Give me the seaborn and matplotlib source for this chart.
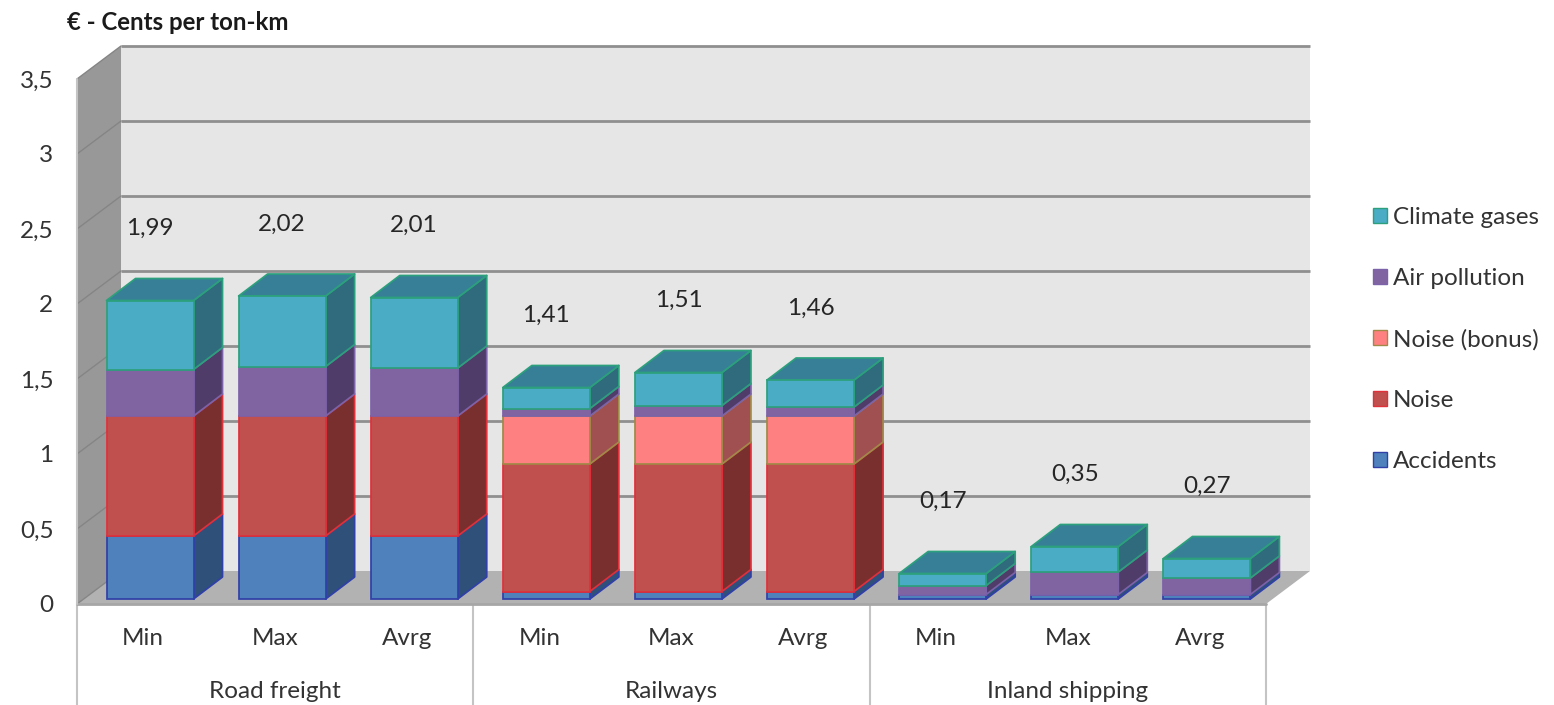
import matplotlib
matplotlib.use("Agg")
import matplotlib.pyplot as plt
from matplotlib.patches import Patch, Polygon
from matplotlib.transforms import ScaledTranslation
import numpy as np
import pandas as pd
import seaborn as sns

# ---- data ----
stats = ["Min", "Max", "Avrg"]
groups = ["Road freight", "Railways", "Inland shipping"]
accidents = [0.42, 0.42, 0.42, 0.05, 0.05, 0.05, 0.03, 0.03, 0.03]
noise = [0.80, 0.80, 0.80, 0.85, 0.85, 0.85, 0.0, 0.0, 0.0]
noise_bonus = [0.0, 0.0, 0.0, 0.32, 0.32, 0.32, 0.0, 0.0, 0.0]
air_pollution = [0.31, 0.33, 0.32, 0.05, 0.07, 0.06, 0.06, 0.15, 0.11]
climate_gases = [0.46, 0.47, 0.47, 0.14, 0.22, 0.18, 0.08, 0.17, 0.13]
totals = [1.99, 2.02, 2.01, 1.41, 1.51, 1.46, 0.17, 0.35, 0.27]
total_labels = ["1,99", "2,02", "2,01", "1,41", "1,51", "1,46", "0,17", "0,35", "0,27"]
y_ticks = [0, 0.5, 1, 1.5, 2, 2.5, 3, 3.5]
y_tick_labels = ["0", "0,5", "1", "1,5", "2", "2,5", "3", "3,5"]
series_names = ["Accidents", "Noise", "Noise (bonus)", "Air pollution", "Climate gases"]
series_values = [accidents, noise, noise_bonus, air_pollution, climate_gases]

# ---- styles ----
face = ["#4f81bd", "#c0504d", "#ff8080", "#8064a2", "#4bacc6"]
edge = ["#3040a8", "#e0303a", "#a08a48", "#7c62a8", "#2ca07c"]
side = ["#2f5079", "#7a2f2f", "#a05050", "#503c68", "#2f6b7c"]
top_face = "#367f96"
text_col = "#333333"
FONT = ["Lato", "DejaVu Sans"]
FS = 17.5
LW = 1.25

sns.set_theme(style="white")
plt.rcParams["font.family"] = FONT

W, H = 1554, 705
fig = plt.figure(figsize=(W / 100, H / 100), dpi=100)
L, R, B, T = 77, 1266, 604, 74            # axes box, px
ax = fig.add_axes([L / W, 1 - B / H, (R - L) / W, (B - T) / H])

cats = [f"{g} {s}" for g in groups for s in stats]
bottom = np.zeros(len(cats))
containers = []
for name, vals, f, e in zip(series_names, series_values, face, edge):
    df = pd.DataFrame({"cat": cats, "value": vals})
    sns.barplot(data=df, x="cat", y="value", order=cats, bottom=bottom, ax=ax,
                color=f, saturation=1, width=87 / 132.1, edgecolor=e, linewidth=LW,
                errorbar=None, zorder=4, clip_on=False)
    containers.append(ax.containers[-1])
    bottom = bottom + np.array(vals)

PX_X, PX_Y = 132.1, 150.0                 # px per category, px per unit
x0 = -73 / PX_X
y0 = -5 / PX_Y
x1 = x0 + 9

# ---- axes text ----
sns.despine(ax=ax, left=True, bottom=True, right=True, top=True)
ax.patch.set_visible(False)
ax.set_xlabel("")
ax.set_ylabel("")
ax.set_yticks(y_ticks)
ax.set_yticklabels(y_tick_labels, fontsize=FS, color=text_col)
ax.set_xticks(range(len(cats)))
ax.set_xticklabels(stats * 3, fontsize=FS, color=text_col)
ax.set_xlim(x0, x1)
ax.set_ylim(y0, 3.5)
ax.tick_params(axis="both", length=0)
ax.tick_params(axis="y", pad=17)
ax.tick_params(axis="x", pad=17)
for lab in ax.get_xticklabels():
    lab.set_transform(lab.get_transform() + ScaledTranslation(-0.07, 0, fig.dpi_scale_trans))
for lab in ax.get_yticklabels():
    lab.set_transform(lab.get_transform() + ScaledTranslation(0, -0.05, fig.dpi_scale_trans))

# ---- pseudo-3D box ----
FX, FY = 44 / PX_X, 33 / PX_Y             # box depth
wall_col, floor_col, back_col, grid_col = "#989898", "#b2b2b2", "#e6e6e6", "#8f8f8f"
kw = dict(clip_on=False, zorder=1, linewidth=0)
ax.add_patch(Polygon([(x0 + FX, y0 + FY), (x1 + FX, y0 + FY), (x1 + FX, y0 + FY + 3.5), (x0 + FX, y0 + FY + 3.5)],
                     facecolor=back_col, **kw))
ax.add_patch(Polygon([(x0, y0), (x0 + FX, y0 + FY), (x0 + FX, y0 + FY + 3.5), (x0, y0 + 3.5)],
                     facecolor=wall_col, **kw))
ax.add_patch(Polygon([(x0, y0), (x0 + FX, y0 + FY), (x1 + FX, y0 + FY), (x1, y0)],
                     facecolor=floor_col, **kw))
for v in y_ticks:
    if v > 0:
        ax.plot([x0 + FX, x1 + FX], [y0 + FY + v] * 2, color=grid_col, lw=2.0, clip_on=False, zorder=2,
                solid_capstyle="butt")
    ax.plot([x0, x0 + FX], [y0 + v, y0 + FY + v], color="#858585", lw=1.0, clip_on=False, zorder=2)
ax.plot([x0, x1], [y0, y0], color="#a6a6a6", lw=2, clip_on=False, zorder=3)
ax.plot([x0, x0], [y0, y0 + 3.5], color="#c4c4c4", lw=1.5, clip_on=False, zorder=3)

# ---- bar sides and tops ----
DX, DY = 29 / PX_X, 22 / PX_Y
for k, cont in enumerate(containers):
    for i, bar in enumerate(cont.patches):
        if bar.get_height() <= 0:
            bar.set_visible(False)
            continue
        xr = bar.get_x() + bar.get_width()
        yb, yt = bar.get_y(), bar.get_y() + bar.get_height()
        ax.add_patch(Polygon([(xr, yb), (xr + DX, yb + DY), (xr + DX, yt + DY), (xr, yt)],
                             facecolor=side[k], edgecolor=edge[k], linewidth=LW,
                             clip_on=False, zorder=3.5, joinstyle="round"))
        if k == len(containers) - 1:
            xl = bar.get_x()
            ax.add_patch(Polygon([(xl, yt), (xr, yt), (xr + DX, yt + DY), (xl + DX, yt + DY)],
                                 facecolor=top_face, edgecolor=edge[k], linewidth=LW,
                                 clip_on=False, zorder=3.6, joinstyle="round"))

# ---- total labels ----
for i, (t, lab) in enumerate(zip(totals, total_labels)):
    ax.annotate(lab, (i, t), xytext=(0, 72 * 0.72), textcoords="offset points",
                ha="center", va="center", fontsize=FS, color="#262626", zorder=6, annotation_clip=False)

bt = ax.get_xaxis_transform()
for j, g in enumerate(groups):
    ax.annotate(g, (x0 + 1.5 + 3 * j, 0), xycoords=bt, xytext=(0, -87 * 0.72), textcoords="offset points",
                ha="center", va="center", fontsize=FS, color=text_col, annotation_clip=False)
for j in range(4):
    ax.plot([x0 + 3 * j] * 2, [0, -101 / (B - T)], transform=bt, color="#c4c4c4", lw=1.5, clip_on=False, zorder=1)

fig.text(67 / W, 1 - 22 / H, "€ - Cents per ton-km", fontsize=17.3, fontweight="bold", color="#1a1a1a",
         ha="left", va="center")

# ---- legend ----
handles = [Patch(facecolor=f, edgecolor=e, linewidth=1, label=n)
           for n, f, e in zip(series_names, face, edge)][::-1]
fig.legend(handles=handles, loc="upper left", bbox_to_anchor=(1373 / W, 1 - 207 / H), frameon=False,
           fontsize=FS, handlelength=0.57, handleheight=0.57, handletextpad=0.25, labelspacing=1.64,
           labelcolor=text_col, borderpad=0, borderaxespad=0)

fig.savefig("out.png", dpi=100, facecolor="white")
